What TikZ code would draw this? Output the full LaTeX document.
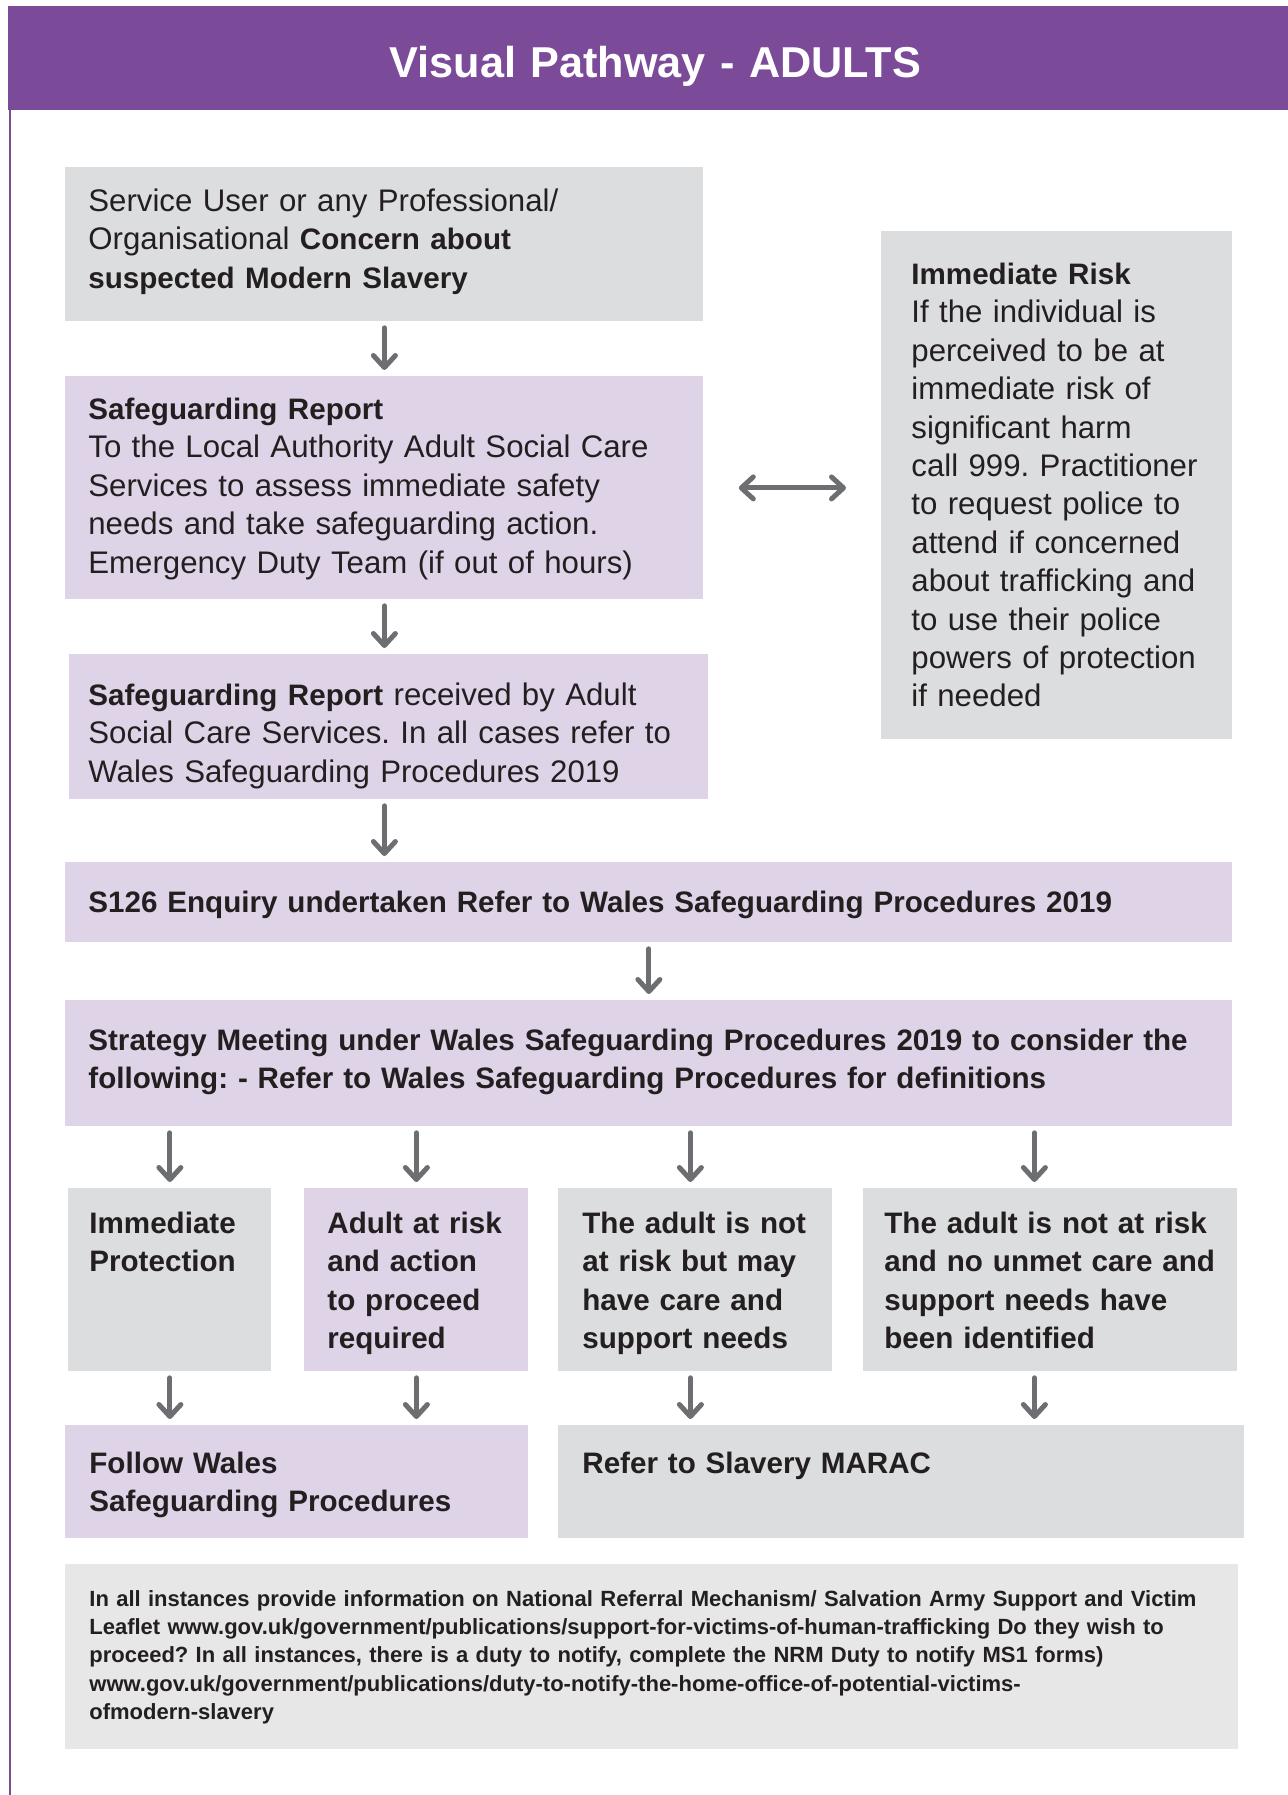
\documentclass[tikz,border=0pt]{standalone}
\usepackage{fontspec}
\setmainfont{Liberation Sans}
\usetikzlibrary{arrows.meta}
\frenchspacing

\definecolor{pathpurple}{RGB}{123,75,154}
\definecolor{boxlilac}{RGB}{223,211,231}
\definecolor{boxgrey}{RGB}{220,221,223}
\definecolor{notegrey}{RGB}{231,231,232}
\definecolor{arrowgrey}{RGB}{109,110,113}
\definecolor{ink}{RGB}{35,31,32}

\newcommand{\hb}[1]{{\fontsize{14.8pt}{19.2pt}\selectfont\bfseries #1}}

\begin{document}
\begin{tikzpicture}[
  x=0.5pt, y=-0.5pt,
  >={Straight Barb[length=6pt,width=11pt,round]},
  panel/.style={
    anchor=north west,
    inner ysep=0pt,
    inner xsep=11.5pt,
    align=left,
    text=ink,
    font={\fontsize{15.6pt}{19.2pt}\selectfont}
  },
  greybox/.style={panel, fill=boxgrey},
  lilacbox/.style={panel, fill=boxlilac},
  heavy/.style={font={\fontsize{14.8pt}{19.2pt}\selectfont\bfseries}},
  flow/.style={draw=arrowgrey, line width=2.5pt, line cap=round, shorten <=3pt, shorten >=3pt}
]
\useasboundingbox (0,0) rectangle (1287,1795);

% title bar and page frame
\node[fill=pathpurple, anchor=north west, inner sep=0pt, text width=647pt, align=center,
  text height=35.5pt, text depth=16.5pt, text=white,
  font={\fontsize{21.6pt}{26pt}\selectfont\bfseries}] (hd) at (8,6) {Visual Pathway - ADULTS};
\draw[pathpurple, line width=1pt] (9.5,110) -- (9.5,1795);

% upper chain
\node[greybox, text width=296pt, text height=22pt, text depth=55pt] (cn) at (65,167)
  {Service User or any Professional/\\Organisational \hb{Concern about}\\\hb{suspected Modern Slavery}};
\node[lilacbox, text width=296pt, text height=21.5pt, text depth=90pt] (sr) at (65,376)
  {\hb{Safeguarding Report}\\To the Local Authority Adult Social Care\\Services to assess immediate safety\\needs and take safeguarding action.\\Emergency Duty Team (if out of hours)};
\node[lilacbox, inner xsep=9.5pt, text width=300.5pt, text height=25.5pt, text depth=47pt] (rr) at (69,654)
  {\hb{Safeguarding Report} received by Adult\\Social Care Services. In all cases refer to\\Wales Safeguarding Procedures 2019};
\node[greybox, inner xsep=15pt, text width=145.5pt, text height=26.5pt, text depth=227.5pt] (ir) at (881,231)
  {\hb{Immediate Risk}\\If the individual is\\perceived to be at\\immediate risk of\\significant harm\\call 999. Practitioner\\to request police to\\attend if concerned\\about trafficking and\\to use their police\\powers of protection\\if needed};

% enquiry and strategy
\node[lilacbox, heavy, text width=560.5pt, text height=25pt, text depth=15pt] (en) at (65,862)
  {S126 Enquiry undertaken Refer to Wales Safeguarding Procedures 2019};
\node[lilacbox, heavy, text width=560.5pt, text height=24.8pt, text depth=38.2pt] (sm) at (65,1000)
  {Strategy Meeting under Wales Safeguarding Procedures 2019 to consider the\\following: - Refer to Wales Safeguarding Procedures for definitions};

% four outcomes
\node[greybox, heavy, inner xsep=10.5pt, text width=80.5pt, text height=22.5pt, text depth=69pt] (ip) at (68,1188)
  {Immediate\\Protection};
\node[lilacbox, heavy, text width=89pt, text height=22.5pt, text depth=69pt] (ar) at (304,1188)
  {Adult at risk\\and action\\to proceed\\required};
\node[greybox, heavy, inner xsep=12pt, text width=113pt, text height=22.5pt, text depth=69pt] (cs) at (558,1188)
  {The adult is not\\at risk but may\\have care and\\support needs};
\node[greybox, heavy, inner xsep=10.5pt, text width=166pt, text height=22.5pt, text depth=69pt] (nn) at (863,1188)
  {The adult is not at risk\\and no unmet care and\\support needs have\\been identified};

% next steps
\node[lilacbox, heavy, inner xsep=12pt, text width=207.5pt, text height=24pt, text depth=32.5pt] (fw) at (65,1425)
  {Follow Wales\\Safeguarding Procedures};
\node[greybox, heavy, inner xsep=12pt, text width=319pt, text height=24pt, text depth=32.5pt] (mr) at (558,1425)
  {Refer to Slavery MARAC};
\node[panel, fill=notegrey, inner xsep=12pt, text width=562.5pt, text height=21pt, text depth=71.5pt,
  font={\fontsize{11pt}{14.1pt}\selectfont\bfseries}] (nt) at (65,1564)
  {In all instances provide information on National Referral Mechanism/ Salvation Army Support and Victim\\Leaflet www.gov.uk/government/publications/support-for-victims-of-human-trafficking Do they wish to\\proceed? In all instances, there is a duty to notify, complete the NRM Duty to notify MS1 forms)\\www.gov.uk/government/publications/duty-to-notify-the-home-office-of-potential-victims-\\ofmodern-slavery};

% arrows
\draw[flow,->] (cn.south) -- (sr.north);
\draw[flow,->] (sr.south) -- (sr.south |- rr.north);
\draw[flow,->] (rr.south -| sr.south) -- (en.north -| sr.south);
\draw[flow,->] (en.south) -- (sm.north);
\draw[flow,<->, shorten <=17.5pt, shorten >=17.5pt] (sr.east) -- (sr.east -| ir.west);
\draw[flow,->] (sm.south -| ip.north) -- (ip.north);
\draw[flow,->] (sm.south -| ar.north) -- (ar.north);
\draw[flow,->] ([xshift=-2.5pt]cs.north |- sm.south) -- ([xshift=-2.5pt]cs.north);
\draw[flow,->] ([xshift=-8pt]nn.north |- sm.south) -- ([xshift=-8pt]nn.north);
\draw[flow,->] (ip.south) -- (ip.south |- fw.north);
\draw[flow,->] (ar.south) -- (ar.south |- fw.north);
\draw[flow,->] ([xshift=-2.5pt]cs.south) -- ([xshift=-2.5pt]cs.south |- mr.north);
\draw[flow,->] ([xshift=-8pt]nn.south) -- ([xshift=-8pt]nn.south |- mr.north);
\end{tikzpicture}
\end{document}
